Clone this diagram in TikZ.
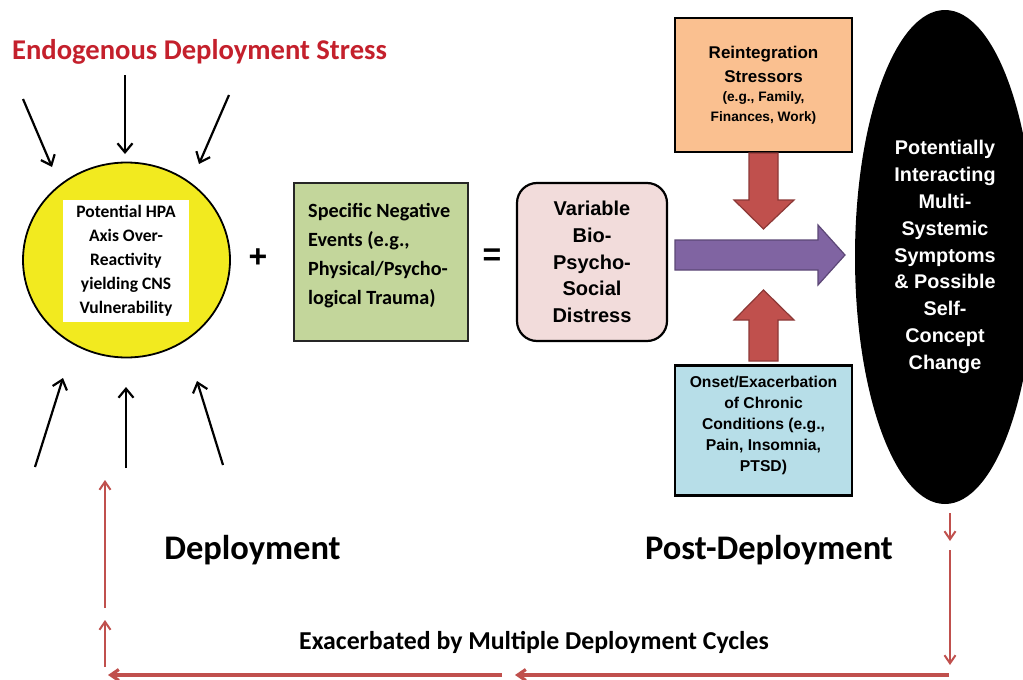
\documentclass[tikz,border=0pt]{standalone}
\usepackage{fontspec}
\setmainfont{Carlito}
\newfontfamily\arialfont{Liberation Sans}
\usetikzlibrary{arrows.meta, positioning, shapes.geometric}

\definecolor{titlered}{HTML}{C4202C}
\definecolor{circyellow}{HTML}{F2EA1F}
\definecolor{evgreen}{HTML}{C3D69B}
\definecolor{distpink}{HTML}{F2DCDB}
\definecolor{flowpurple}{HTML}{8064A2}
\definecolor{flowpurpledark}{HTML}{5C4776}
\definecolor{pushred}{HTML}{C0504D}
\definecolor{pushreddark}{HTML}{8C3836}
\definecolor{reintorange}{HTML}{FAC090}
\definecolor{chronblue}{HTML}{B7DEE8}

\tikzset{
  stress/.style={draw=black, line width=2.2pt,
    -{Straight Barb[length=9pt,width=15pt]}},
  cycle/.style={draw=pushred, line width=2pt,
    -{Straight Barb[length=8pt,width=11pt]}},
  cyclewide/.style={cycle, line width=3.2pt},
  bigtext/.style={font=\bfseries\fontsize{34.5}{38}\selectfont},
  sqbox/.style={draw=black, line width=2.5pt, inner sep=0pt},
  blockarrow/.style={line width=1.2pt, line join=miter}
}

\begin{document}
\begin{tikzpicture}[x=1pt, y=-1pt]
  \clip (0,0) rectangle (1023,680);
  \fill[white] (0,0) rectangle (1023,680);

  % title
  \node[font=\bfseries\fontsize{28.6}{32}\selectfont, text=titlered] (title) at (199.5,52) {Endogenous Deployment Stress};

  % circle with the vulnerability text
  \node[ellipse, draw=black, line width=1.8pt, fill=circyellow,
        minimum width=207pt, minimum height=195pt] (hpa) at (126.5,260) {};
  \node[fill=white, minimum width=126pt, minimum height=122pt, align=center,
        font=\bfseries\fontsize{17.5}{24}\selectfont] (hpatext) at (126,261)
        {Potential HPA\\Axis Over-\\Reactivity\\yielding CNS\\Vulnerability};

  % stress arrows round the circle
  \coordinate (s1) at (23,99);   \coordinate (e1) at (52,167);
  \coordinate (s2) at (125,75);  \coordinate (e2) at (125,154);
  \coordinate (s3) at (229,95);  \coordinate (e3) at (199,164);
  \coordinate (s4) at (35,467);  \coordinate (e4) at (63,378);
  \coordinate (s5) at (126,468); \coordinate (e5) at (126,387);
  \coordinate (s6) at (223,465); \coordinate (e6) at (197,381);
  \foreach \i in {1,...,6}
    \draw[stress] (s\i) -- (e\i);

  \node[font=\arialfont\bfseries\fontsize{32}{32}\selectfont] (plus) at (258,258) {+};

  % specific events
  \node[sqbox, draw=black!85, fill=evgreen, minimum width=174pt, minimum height=158pt] (events) at (381,262) {};
  \node[anchor=west, align=left, inner sep=0pt,
        font=\bfseries\fontsize{20.2}{29}\selectfont] (eventstext) at (308,256)
        {Specific Negative\\Events (e.g.,\\Physical/Psycho-\\logical Trauma)};

  \node[font=\arialfont\bfseries\fontsize{32}{32}\selectfont] (equals) at (492,257) {=};

  % distress
  \node[draw=black, line width=2.2pt, fill=distpink, rounded corners=20pt,
        minimum width=150pt, minimum height=158pt, align=center,
        font=\arialfont\bfseries\fontsize{20}{26.8}\selectfont] (distress) at (592,262)
        {Variable\\Bio-\\Psycho-\\Social\\Distress};

  % stressors above and below
  \node[sqbox, fill=reintorange, minimum width=177pt, minimum height=134pt, align=center,
        font=\arialfont\bfseries\fontsize{17}{24}\selectfont] (reint) at (763.5,85)
        {Reintegration\\Stressors\\[-5pt]\fontsize{13.7}{19}\selectfont(e.g., Family,\\[-4pt]\fontsize{13.7}{19}\selectfont Finances, Work)};
  \node[sqbox, fill=chronblue, minimum width=177pt, minimum height=130pt, align=center,
        text depth=14pt,
        font=\arialfont\bfseries\fontsize{15.7}{21}\selectfont, below=211pt of reint] (chronic)
        {Onset/Exacerbation\\of Chronic\\Conditions (e.g.,\\Pain, Insomnia,\\PTSD)};

  % outcome
  \node[ellipse, fill=black, minimum width=180pt, minimum height=494pt, align=center,
        text=white, font=\arialfont\bfseries\fontsize{19.8}{26.8}\selectfont] (outcome) at (945,257)
        {Potentially\\Interacting\\Multi-\\Systemic\\Symptoms\\\& Possible\\Self-\\Concept\\Change};

  % block arrows
  \draw[blockarrow, draw=flowpurpledark, fill=flowpurple]
    (675,240) -- (818,240) -- (818,225) -- (845,255) -- (818,285) -- (818,270) -- (675,270) -- cycle;
  \draw[blockarrow, draw=pushreddark, fill=pushred]
    (749,153) -- (778,153) -- (778,200) -- (794,200) -- (763.5,229) -- (734,200) -- (749,200) -- cycle;
  \draw[blockarrow, draw=pushreddark, fill=pushred]
    (749,361) -- (778,361) -- (778,320) -- (794,320) -- (763.5,290) -- (734,320) -- (749,320) -- cycle;

  % phases
  \node[bigtext] (deploy) at (252.5,550) {Deployment};
  \node[bigtext] (postdeploy) at (769,550) {Post-Deployment};
  \node[font=\bfseries\fontsize{25.8}{30}\selectfont] (cycles) at (534,642) {Exacerbated by Multiple Deployment Cycles};

  % deployment cycle
  \coordinate (c1) at (950,513); \coordinate (c2) at (950,541);
  \coordinate (c3) at (950,550); \coordinate (c4) at (950,665);
  \coordinate (c5) at (949,675); \coordinate (c6) at (515,675);
  \coordinate (c7) at (502,675); \coordinate (c8) at (108,675);
  \coordinate (c9) at (105,667); \coordinate (c10) at (105,620);
  \coordinate (c11) at (105,608); \coordinate (c12) at (105,480);
  \draw[cycle] (c1) -- (c2);
  \draw[cycle] (c3) -- (c4);
  \draw[cyclewide] (c5) -- (c6);
  \draw[cyclewide] (c7) -- (c8);
  \draw[cycle] (c9) -- (c10);
  \draw[cycle] (c11) -- (c12);
\end{tikzpicture}
\end{document}
